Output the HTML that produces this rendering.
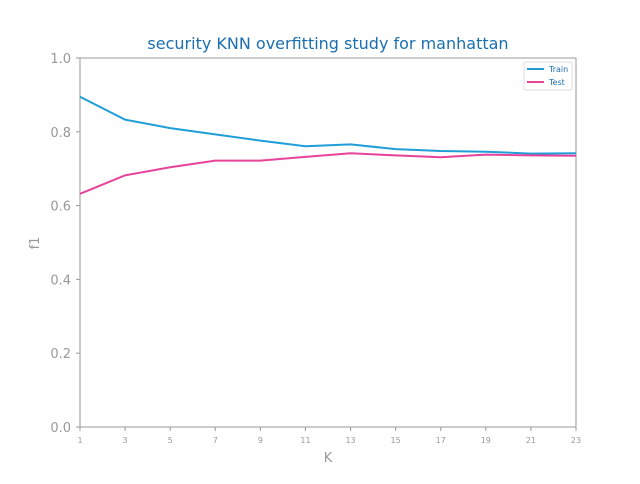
<!DOCTYPE html>
<html><head><meta charset="utf-8"><style>
body{margin:0;background:#fff;font-family:"DejaVu Sans","Liberation Sans",sans-serif}
</style></head><body>
<svg id="c" width="640" height="480" xmlns="http://www.w3.org/2000/svg" font-family="DejaVu Sans, Liberation Sans, sans-serif">
<text x="328" y="49" text-anchor="middle" font-size="16" fill="#1a6fb0">security KNN overfitting study for manhattan</text>
<rect x="80" y="58" width="496" height="369" fill="none" stroke="#999"/>
<text x="328" y="462" text-anchor="middle" font-size="13" fill="#999">K</text>
<text x="0" y="0" transform="translate(39,243) rotate(-90)" text-anchor="middle" font-size="13" fill="#999">f1</text>
<g id="ticks"></g><g id="lines"></g>
<g>
<rect x="524" y="62" width="48" height="28" fill="#fff" stroke="#ddd" rx="2"/>
<line x1="527" y1="69" x2="544" y2="69" stroke="#1f9ed8" stroke-width="2"/>
<text x="549" y="72" font-size="8" fill="#1a6fb0">Train</text>
<line x1="527" y1="82" x2="544" y2="82" stroke="#e8439a" stroke-width="2"/>
<text x="549" y="85" font-size="8" fill="#1a6fb0">Test</text>
</g>
</svg>
<script>
const kValues=[1,3,5,7,9,11,13,15,17,19,21,23];
const trainValues=[0.895,0.833,0.81,0.793,0.776,0.761,0.766,0.753,0.748,0.746,0.741,0.742];
const testValues=[0.632,0.682,0.704,0.722,0.722,0.732,0.742,0.736,0.731,0.738,0.736,0.735];
const yTicks=[0,0.2,0.4,0.6,0.8,1.0];
const NS="http://www.w3.org/2000/svg";
const x=k=>80+(k-1)/22*496, y=v=>427-v*369;
const tg=document.getElementById('ticks'), lg=document.getElementById('lines');
function mk(t,a,p){const e=document.createElementNS(NS,t);for(const k in a)e.setAttribute(k,a[k]);p.appendChild(e);return e;}
kValues.forEach(k=>{
 const l=mk('line',{x1:x(k),x2:x(k),y1:427,y2:431,stroke:'#999'},tg);
 
 
 const t=mk('text',{x:x(k),y:443,'text-anchor':'middle','font-size':8,fill:'#999'},tg);t.textContent=k;
 
 
});
yTicks.forEach(v=>{
 const l=mk('line',{x1:76,x2:80,y1:y(v),y2:y(v),stroke:'#999'},tg);
 
 
 const t=mk('text',{x:71,y:y(v)+5,'text-anchor':'end','font-size':13,fill:'#999'},tg);t.textContent=v.toFixed(1);
 
 
});
[[trainValues,'#1f9ed8','train-line'],[testValues,'#e8439a','test-line']].forEach(([vals,c,n])=>{
 const p=mk('polyline',{points:vals.map((v,i)=>x(kValues[i])+','+y(v)).join(' '),fill:'none',stroke:c,'stroke-width':2},lg);
 
 
});
</script>
</body></html>
